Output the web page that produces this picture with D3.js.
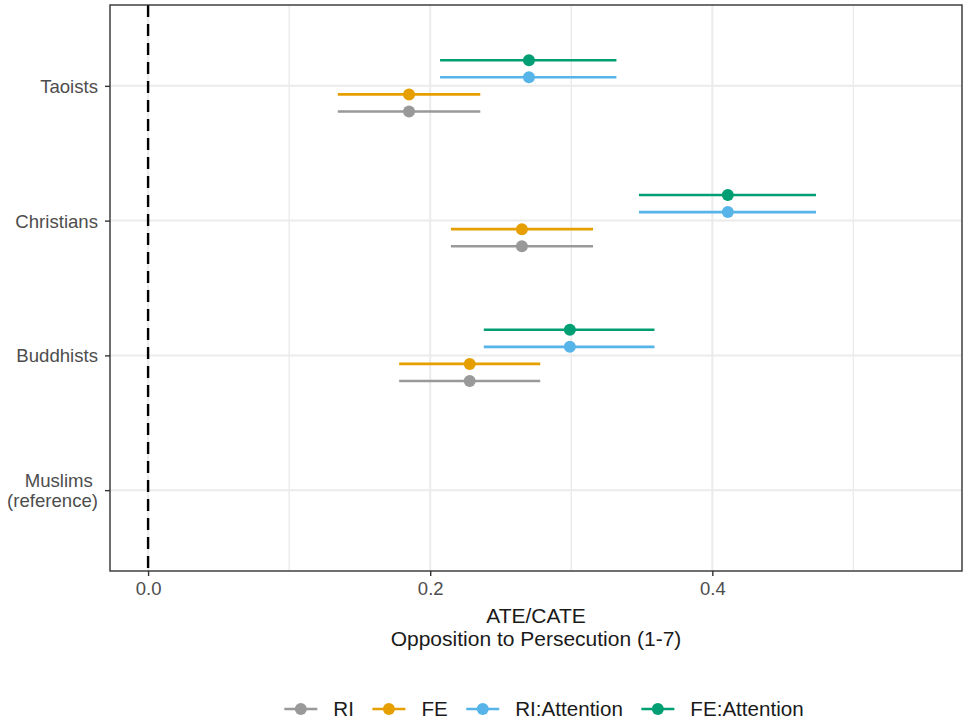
<!DOCTYPE html>
<html>
<head>
<meta charset="utf-8">
<script src="https://cdn.jsdelivr.net/npm/d3@7"></script>
<style>
  body { margin: 0; background: #fff; }
  text { font-family: "Liberation Sans", Arial, Helvetica, sans-serif; }
</style>
</head>
<body>
<div id="chart"></div>
<script>
// categories top to bottom
const groups = ["Taoists", "Christians", "Buddhists", "Muslims\u00a0\n(reference)"];
// series in dodge order, top to bottom within a group
const series = ["FE:Attention", "RI:Attention", "FE", "RI"];
const legendOrder = ["RI", "FE", "RI:Attention", "FE:Attention"];
const colors = ["#009E73", "#56B4E9", "#E69F00", "#999999"];

// estimates per series, per group (Muslims is the reference -> no estimate)
const estRI      = [0.185, 0.265, 0.228, null];
const lowRI      = [0.1345, 0.2147, 0.178, null];
const highRI     = [0.2355, 0.3154, 0.278, null];
const estFE      = [0.185, 0.265, 0.228, null];
const lowFE      = [0.1345, 0.2147, 0.178, null];
const highFE     = [0.2355, 0.3154, 0.278, null];
const estRIAtt   = [0.270, 0.411, 0.299, null];
const lowRIAtt   = [0.207, 0.348, 0.238, null];
const highRIAtt  = [0.332, 0.4735, 0.359, null];
const estFEAtt   = [0.270, 0.411, 0.299, null];
const lowFEAtt   = [0.207, 0.348, 0.238, null];
const highFEAtt  = [0.332, 0.4735, 0.359, null];

const xTicks = [0, 0.2, 0.4];
const xMinor = [0.1, 0.3, 0.5];
const xDomain = [-0.027, 0.577];

const bySeries = {
  "RI": [estRI, lowRI, highRI],
  "FE": [estFE, lowFE, highFE],
  "RI:Attention": [estRIAtt, lowRIAtt, highRIAtt],
  "FE:Attention": [estFEAtt, lowFEAtt, highFEAtt]
};
const rows = [];
series.forEach(s => {
  const [e, lo, hi] = bySeries[s];
  groups.forEach((g, i) => {
    if (e[i] != null) rows.push({group: g, series: s, est: e[i], lo: lo[i], hi: hi[i]});
  });
});

const W = 963, H = 726;
const margin = {top: 5, right: 1, bottom: 155, left: 110};
const width = W - margin.left - margin.right;
const height = H - margin.top - margin.bottom;

const svg = d3.select("#chart").append("svg")
  .attr("width", W).attr("height", H);
const g = svg.append("g")
  .attr("transform", `translate(${margin.left},${margin.top})`);

const x = d3.scaleLinear().domain(xDomain).range([0, width]);
const y = d3.scalePoint().domain(groups).range([0, height]).padding(0.6);
const dodge = y.step() * 0.38;
const yInner = d3.scalePoint().domain(series).range([-dodge / 2, dodge / 2]);
const color = d3.scaleOrdinal().domain(series).range(colors);

// grid
g.selectAll("line.minor").data(xMinor).join("line")
  .attr("x1", d => x(d)).attr("x2", d => x(d))
  .attr("y1", 0).attr("y2", height)
  .attr("stroke", "#ebebeb").attr("stroke-width", 1.4);
g.selectAll("line.gx").data(xTicks).join("line")
  .attr("x1", d => x(d)).attr("x2", d => x(d))
  .attr("y1", 0).attr("y2", height)
  .attr("stroke", "#ebebeb").attr("stroke-width", 2);
g.selectAll("line.gy").data(groups).join("line")
  .attr("x1", 0).attr("x2", width)
  .attr("y1", d => y(d)).attr("y2", d => y(d))
  .attr("stroke", "#ebebeb").attr("stroke-width", 2);

// reference line at 0
g.append("line")
  .attr("x1", x(0)).attr("x2", x(0))
  .attr("y1", 0).attr("y2", height)
  .attr("stroke", "#000").attr("stroke-width", 2.4)
  .attr("stroke-dasharray", "12,7");

// intervals and points
const marks = g.append("g").selectAll("g").data(rows).join("g")
  .attr("transform", d => `translate(0,${y(d.group) + yInner(d.series)})`);
marks.append("line")
  .attr("x1", d => x(d.lo)).attr("x2", d => x(d.hi))
  .attr("stroke", d => color(d.series)).attr("stroke-width", 2.6);
marks.append("circle")
  .attr("cx", d => x(d.est)).attr("r", 6)
  .attr("fill", d => color(d.series));

// panel border
g.append("rect")
  .attr("width", width).attr("height", height)
  .attr("fill", "none").attr("stroke", "#333").attr("stroke-width", 1.4);

// x axis
const xAxis = g.append("g")
  .attr("transform", `translate(0,${height})`)
  .call(d3.axisBottom(x).tickValues(xTicks).tickFormat(d3.format(".1f")).tickSize(5).tickPadding(6));
xAxis.select(".domain").remove();
xAxis.selectAll("line").attr("stroke", "#333").attr("stroke-width", 1.4);
xAxis.selectAll("text").attr("fill", "#4d4d4d").style("font-size", "18.5px")
  .style("font-family", "'Liberation Sans', Arial, sans-serif");

// y axis
const yAxis = g.append("g")
  .call(d3.axisLeft(y).tickSize(5).tickPadding(7).tickFormat(""));
yAxis.select(".domain").remove();
yAxis.selectAll("line").attr("stroke", "#333").attr("stroke-width", 1.4);
yAxis.selectAll(".tick").each(function(d) {
  const lines = d.split("\n");
  const t = d3.select(this).append("text")
    .attr("x", -12).attr("text-anchor", "end")
    .attr("fill", "#4d4d4d").style("font-size", "18.6px")
    .style("white-space", "pre");
  lines.forEach((l, i) => {
    t.append("tspan").attr("x", -12)
      .attr("y", (i - (lines.length - 1) / 2) * 20)
      .attr("dy", "0.35em").text(l);
  });
});

// axis title
const title = svg.append("text")
  .attr("x", margin.left + width / 2).attr("text-anchor", "middle")
  .attr("fill", "#1a1a1a").style("font-size", "21px");
title.append("tspan").attr("x", margin.left + width / 2).attr("y", 623).text("ATE/CATE");
title.append("tspan").attr("x", margin.left + width / 2).attr("y", 646).text("Opposition to Persecution (1-7)");

// legend
const legend = svg.append("g");
const items = legend.selectAll("g").data(legendOrder).join("g");
items.append("line").attr("x1", 0).attr("x2", 33)
  .attr("stroke", d => color(d)).attr("stroke-width", 2.6);
items.append("circle").attr("cx", 16.5).attr("r", 6).attr("fill", d => color(d));
items.append("text").attr("x", 49).attr("dy", "0.35em")
  .attr("fill", "#1a1a1a").style("font-size", "20.6px").text(d => d);
const gap = 18.5;
let offset = 0;
items.each(function() {
  const w = this.getBBox().width;
  d3.select(this).attr("transform", `translate(${offset},709)`);
  offset += w + gap;
});
offset -= gap;
legend.attr("transform", `translate(${544 - offset / 2},0)`);
</script>
</body>
</html>
